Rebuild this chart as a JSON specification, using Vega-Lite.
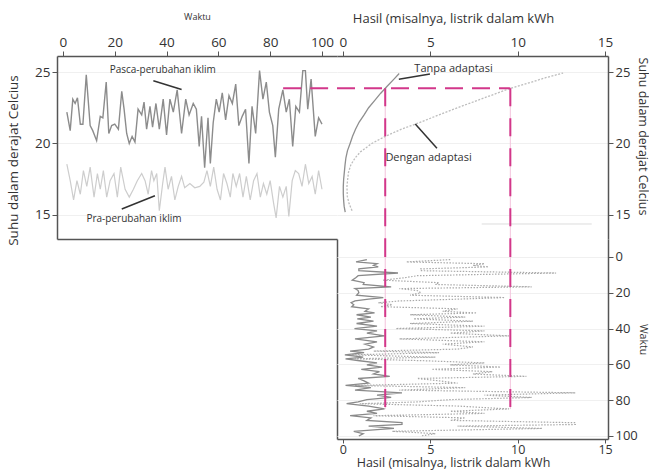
{
  "$schema": "https://vega.github.io/schema/vega-lite/v6.json",
  "padding": {"left": 6, "top": 12, "right": 1, "bottom": 1},
  "columns": 2,
  "spacing": 0,
  "bounds": "flush",
  "datasets": {
    "post": [{"t":1.5,"temp":22.2},{"t":2.8,"temp":20.9},{"t":3.8,"temp":23.1},{"t":4.7,"temp":22.8},{"t":5.6,"temp":23.2},{"t":6.7,"temp":21.35},{"t":7.7,"temp":21.35},{"t":9,"temp":24.8},{"t":10.5,"temp":21.25},{"t":11.5,"temp":20.9},{"t":13,"temp":20.2},{"t":14.4,"temp":21.9},{"t":15.4,"temp":21.8},{"t":16.7,"temp":24.3},{"t":17.7,"temp":20.7},{"t":18.8,"temp":21.25},{"t":20,"temp":21.35},{"t":21.4,"temp":21.0},{"t":22.7,"temp":23.65},{"t":23.6,"temp":22.4},{"t":24.6,"temp":20.7},{"t":25.6,"temp":20.0},{"t":26.7,"temp":20.5},{"t":27.8,"temp":20.1},{"t":29,"temp":22.4},{"t":30.4,"temp":22.0},{"t":31.3,"temp":22.9},{"t":32.3,"temp":21.0},{"t":33.6,"temp":22.6},{"t":34.6,"temp":21.15},{"t":35.9,"temp":22.8},{"t":37.2,"temp":21.0},{"t":38.7,"temp":23.1},{"t":40,"temp":20.6},{"t":41.3,"temp":23.1},{"t":42.6,"temp":22.2},{"t":44.1,"temp":23.75},{"t":45.8,"temp":20.7},{"t":47.4,"temp":23.1},{"t":48.7,"temp":22.0},{"t":50.3,"temp":22.8},{"t":51.5,"temp":22.4},{"t":52.6,"temp":19.8},{"t":53.5,"temp":21.9},{"t":54.7,"temp":18.3},{"t":56,"temp":21.8},{"t":56.9,"temp":18.6},{"t":58,"temp":21.45},{"t":59.2,"temp":23.1},{"t":60.3,"temp":22.2},{"t":61.5,"temp":23.55},{"t":62.8,"temp":21.65},{"t":64.1,"temp":23.35},{"t":65.4,"temp":22.8},{"t":66.7,"temp":24.15},{"t":67.9,"temp":21.25},{"t":69.2,"temp":21.9},{"t":70.5,"temp":22.4},{"t":71.8,"temp":18.6},{"t":73,"temp":22.6},{"t":74.4,"temp":20.7},{"t":75.9,"temp":25.1},{"t":77.2,"temp":23.1},{"t":78.5,"temp":24.3},{"t":79.7,"temp":22.2},{"t":81,"temp":21.25},{"t":82,"temp":19.05},{"t":83.3,"temp":22.4},{"t":84.9,"temp":23.75},{"t":86.2,"temp":22.2},{"t":87.4,"temp":23.1},{"t":88.7,"temp":19.8},{"t":89.9,"temp":22.6},{"t":91.3,"temp":22.2},{"t":92.6,"temp":25.1},{"t":93.6,"temp":25.1},{"t":94.5,"temp":22.4},{"t":95.8,"temp":24.5},{"t":97.4,"temp":20.5},{"t":98.7,"temp":21.8},{"t":100,"temp":21.35}],
    "pre": [{"t":1.5,"temp":18.55},{"t":2.8,"temp":17.4},{"t":4.1,"temp":16.05},{"t":5.4,"temp":17.4},{"t":6.7,"temp":16.45},{"t":7.9,"temp":18.1},{"t":9.2,"temp":17.0},{"t":10.5,"temp":18.35},{"t":12,"temp":16.25},{"t":13.3,"temp":17.9},{"t":14.4,"temp":16.8},{"t":15.6,"temp":18.1},{"t":16.9,"temp":16.25},{"t":18.2,"temp":17.4},{"t":19.7,"temp":17.9},{"t":21,"temp":16.25},{"t":22.3,"temp":18.35},{"t":24,"temp":16.8},{"t":25.6,"temp":16.25},{"t":27.2,"temp":16.8},{"t":28.7,"temp":17.4},{"t":30.4,"temp":17.9},{"t":31.7,"temp":17.4},{"t":32.9,"temp":16.45},{"t":34.2,"temp":18.1},{"t":35.1,"temp":17.4},{"t":36.2,"temp":17.9},{"t":37.2,"temp":15.3},{"t":38.5,"temp":17.2},{"t":39.4,"temp":18.35},{"t":40.6,"temp":16.8},{"t":41.9,"temp":17.7},{"t":43.2,"temp":16.05},{"t":44.5,"temp":17.0},{"t":45.8,"temp":17.7},{"t":47,"temp":16.9},{"t":49,"temp":17.2},{"t":50.9,"temp":16.9},{"t":52.8,"temp":17.0},{"t":54.4,"temp":17.3},{"t":55.6,"temp":18.1},{"t":56.9,"temp":17.0},{"t":58.2,"temp":18.35},{"t":59.5,"temp":16.8},{"t":60.8,"temp":16.05},{"t":62,"temp":17.9},{"t":63.3,"temp":17.2},{"t":64.6,"temp":16.25},{"t":65.6,"temp":17.9},{"t":66.9,"temp":17.0},{"t":68.2,"temp":17.9},{"t":69.5,"temp":16.25},{"t":70.8,"temp":17.7},{"t":72.3,"temp":16.05},{"t":73.6,"temp":17.4},{"t":74.9,"temp":17.9},{"t":76.2,"temp":16.25},{"t":77.4,"temp":17.2},{"t":78.7,"temp":16.45},{"t":80,"temp":17.4},{"t":81.3,"temp":15.85},{"t":82.3,"temp":14.8},{"t":83.6,"temp":17.0},{"t":84.9,"temp":16.25},{"t":86.2,"temp":17.0},{"t":87.2,"temp":14.9},{"t":88.5,"temp":17.4},{"t":89.7,"temp":18.1},{"t":91,"temp":17.9},{"t":92.3,"temp":17.0},{"t":93.6,"temp":18.55},{"t":94.9,"temp":17.2},{"t":96.2,"temp":17.7},{"t":97.4,"temp":16.45},{"t":98.7,"temp":18.1},{"t":100,"temp":16.8}],
    "yNo": [{"t":1.5,"yield":1.37},{"t":2.8,"yield":0.75},{"t":3.8,"yield":1.95},{"t":4.7,"yield":1.75},{"t":5.6,"yield":2.02},{"t":6.7,"yield":0.91},{"t":7.7,"yield":0.91},{"t":9,"yield":3.15},{"t":10.5,"yield":0.87},{"t":11.5,"yield":0.75},{"t":13,"yield":0.53},{"t":14.4,"yield":1.21},{"t":15.4,"yield":1.16},{"t":16.7,"yield":2.76},{"t":17.7,"yield":0.69},{"t":18.8,"yield":0.87},{"t":20,"yield":0.91},{"t":21.4,"yield":0.78},{"t":22.7,"yield":2.31},{"t":23.6,"yield":1.47},{"t":24.6,"yield":0.69},{"t":25.6,"yield":0.47},{"t":26.7,"yield":0.62},{"t":27.8,"yield":0.5},{"t":29,"yield":1.47},{"t":30.4,"yield":1.26},{"t":31.3,"yield":1.81},{"t":32.3,"yield":0.78},{"t":33.6,"yield":1.6},{"t":34.6,"yield":0.82},{"t":35.9,"yield":1.75},{"t":37.2,"yield":0.78},{"t":38.7,"yield":1.95},{"t":40,"yield":0.66},{"t":41.3,"yield":1.95},{"t":42.6,"yield":1.37},{"t":44.1,"yield":2.38},{"t":45.8,"yield":0.69},{"t":47.4,"yield":1.95},{"t":48.7,"yield":1.26},{"t":50.3,"yield":1.75},{"t":51.5,"yield":1.47},{"t":52.6,"yield":0.41},{"t":53.5,"yield":1.21},{"t":54.7,"yield":0.11},{"t":56,"yield":1.16},{"t":56.9,"yield":0.15},{"t":58,"yield":0.95},{"t":59.2,"yield":1.95},{"t":60.3,"yield":1.37},{"t":61.5,"yield":2.24},{"t":62.8,"yield":1.05},{"t":64.1,"yield":2.09},{"t":65.4,"yield":1.75},{"t":66.7,"yield":2.68},{"t":67.9,"yield":0.87},{"t":69.2,"yield":1.21},{"t":70.5,"yield":1.47},{"t":71.8,"yield":0.15},{"t":73,"yield":1.6},{"t":74.4,"yield":0.69},{"t":75.9,"yield":3.38},{"t":77.2,"yield":1.95},{"t":78.5,"yield":2.76},{"t":79.7,"yield":1.37},{"t":81,"yield":0.87},{"t":82,"yield":0.21},{"t":83.3,"yield":1.47},{"t":84.9,"yield":2.38},{"t":86.2,"yield":1.37},{"t":87.4,"yield":1.95},{"t":88.7,"yield":0.41},{"t":89.9,"yield":1.6},{"t":91.3,"yield":1.37},{"t":92.6,"yield":3.38},{"t":93.6,"yield":3.38},{"t":94.5,"yield":1.47},{"t":95.8,"yield":2.92},{"t":97.4,"yield":0.62},{"t":98.7,"yield":1.16},{"t":100,"yield":0.91}],
    "yWith": [{"t":1.5,"yield":6.14},{"t":2.8,"yield":3.63},{"t":3.8,"yield":8.1},{"t":4.7,"yield":7.44},{"t":5.6,"yield":8.33},{"t":6.7,"yield":4.45},{"t":7.7,"yield":4.45},{"t":9,"yield":12.2},{"t":10.5,"yield":4.25},{"t":11.5,"yield":3.63},{"t":13,"yield":2.29},{"t":14.4,"yield":5.5},{"t":15.4,"yield":5.29},{"t":16.7,"yield":10.8},{"t":17.7,"yield":3.23},{"t":18.8,"yield":4.25},{"t":20,"yield":4.45},{"t":21.4,"yield":3.84},{"t":22.7,"yield":9.26},{"t":23.6,"yield":6.56},{"t":24.6,"yield":3.23},{"t":25.6,"yield":2.02},{"t":26.7,"yield":2.82},{"t":27.8,"yield":2.15},{"t":29,"yield":6.56},{"t":30.4,"yield":5.71},{"t":31.3,"yield":7.66},{"t":32.3,"yield":3.84},{"t":33.6,"yield":7.0},{"t":34.6,"yield":4.04},{"t":35.9,"yield":7.44},{"t":37.2,"yield":3.84},{"t":38.7,"yield":8.1},{"t":40,"yield":3.03},{"t":41.3,"yield":8.1},{"t":42.6,"yield":6.14},{"t":44.1,"yield":9.5},{"t":45.8,"yield":3.23},{"t":47.4,"yield":8.1},{"t":48.7,"yield":5.71},{"t":50.3,"yield":7.44},{"t":51.5,"yield":6.56},{"t":52.6,"yield":1.75},{"t":53.5,"yield":5.5},{"t":54.7,"yield":0.5},{"t":56,"yield":5.29},{"t":56.9,"yield":0.68},{"t":58,"yield":4.66},{"t":59.2,"yield":8.1},{"t":60.3,"yield":6.14},{"t":61.5,"yield":9.02},{"t":62.8,"yield":5.08},{"t":64.1,"yield":8.55},{"t":65.4,"yield":7.44},{"t":66.7,"yield":10.5},{"t":67.9,"yield":4.25},{"t":69.2,"yield":5.5},{"t":70.5,"yield":6.56},{"t":71.8,"yield":0.68},{"t":73,"yield":7.0},{"t":74.4,"yield":3.23},{"t":75.9,"yield":13.3},{"t":77.2,"yield":8.1},{"t":78.5,"yield":10.8},{"t":79.7,"yield":6.14},{"t":81,"yield":4.25},{"t":82,"yield":0.96},{"t":83.3,"yield":6.56},{"t":84.9,"yield":9.5},{"t":86.2,"yield":6.14},{"t":87.4,"yield":8.1},{"t":88.7,"yield":1.75},{"t":89.9,"yield":7.0},{"t":91.3,"yield":6.14},{"t":92.6,"yield":13.3},{"t":93.6,"yield":13.3},{"t":94.5,"yield":6.56},{"t":95.8,"yield":11.4},{"t":97.4,"yield":2.82},{"t":98.7,"yield":5.29},{"t":100,"yield":4.45}],
    "curveNo": [{"temp":15.2,"yield":0.13},{"temp":15.6,"yield":0.07},{"temp":16.0,"yield":0.04},{"temp":16.5,"yield":0.02},{"temp":17.0,"yield":0.02},{"temp":17.5,"yield":0.04},{"temp":18.0,"yield":0.08},{"temp":18.5,"yield":0.12},{"temp":19.0,"yield":0.17},{"temp":19.5,"yield":0.26},{"temp":20.0,"yield":0.41},{"temp":20.5,"yield":0.55},{"temp":21.0,"yield":0.72},{"temp":21.5,"yield":0.93},{"temp":22.0,"yield":1.21},{"temp":22.5,"yield":1.47},{"temp":23.0,"yield":1.81},{"temp":23.5,"yield":2.15},{"temp":24.0,"yield":2.53},{"temp":24.5,"yield":2.92},{"temp":24.9,"yield":3.22}],
    "curveWith": [{"temp":15.3,"yield":0.52},{"temp":15.8,"yield":0.35},{"temp":16.3,"yield":0.25},{"temp":17.0,"yield":0.23},{"temp":17.5,"yield":0.27},{"temp":18.0,"yield":0.32},{"temp":18.5,"yield":0.45},{"temp":19.0,"yield":0.7},{"temp":19.4,"yield":0.99},{"temp":20.0,"yield":1.65},{"temp":20.5,"yield":2.42},{"temp":21.0,"yield":3.35},{"temp":21.4,"yield":4.24},{"temp":22.0,"yield":5.5},{"temp":22.4,"yield":6.34},{"temp":23.0,"yield":7.66},{"temp":23.5,"yield":8.78},{"temp":23.86,"yield":9.58},{"temp":24.3,"yield":10.8},{"temp":24.6,"yield":11.6},{"temp":24.93,"yield":12.6}],
    "guideTL": [{"t":85,"temp":23.86}],
    "guideH": [{"yield":9.58,"temp":23.86}],
    "guideVTR": [{"yield":2.42,"temp":23.86,"temp2":13.32},{"yield":9.58,"temp":23.86,"temp2":13.32}],
    "guideVBR": [{"yield":2.42,"t":-10,"t2":85},{"yield":9.58,"t":-10,"t2":85}],
    "labelsTL": [{"t":38.5,"temp":25.16,"label":"Pasca-perubahan iklim"},{"t":27.4,"temp":14.72,"label":"Pra-perubahan iklim"}],
    "pointersTL": [{"t":34.9,"temp":24.39,"t2":45.8,"temp2":23.78},{"t":22.7,"temp":15.42,"t2":35.5,"temp2":16.35}],
    "labelsTR": [{"yield":6.33,"temp":25.2,"label":"Tanpa adaptasi"},{"yield":4.9,"temp":18.97,"label":"Dengan adaptasi"}],
    "pointersTR": [{"yield":3.2,"temp":24.5,"yield2":4.98,"temp2":24.86},{"yield":4.14,"temp":21.36,"yield2":5.38,"temp2":19.66}],
    "faintTR": [{"yield":7.94,"yield2":14.24,"temp":14.37}]
  },
  "concat": [
    {
      "width": 280, "height": 183,
      "encoding": {
        "x": {"field": "t", "type": "quantitative", "scale": {"domain": [-2.3, 105.8], "nice": false, "zero": false},
              "axis": {"orient": "top", "title": "Waktu", "titleFontSize": 9, "values": [0,20,40,60,80,100], "grid": false, "titlePadding": 14}},
        "y": {"field": "temp", "type": "quantitative", "scale": {"domain": [13.32, 26.12], "nice": false, "zero": false},
              "axis": {"orient": "left", "title": "Suhu dalam derajat Celcius", "titleFontSize": 13.5, "values": [15,20,25], "grid": true, "titlePadding": 14, "titleY": 104}}
      },
      "layer": [
        {"data": {"name": "pre"}, "mark": {"type": "line", "color": "#cdcdcd", "strokeWidth": 1.2}},
        {"data": {"name": "post"}, "mark": {"type": "line", "color": "#8c8c8c", "strokeWidth": 1.4}},
        {"data": {"name": "guideTL"}, "mark": {"type": "rule", "color": "#d2378a", "strokeWidth": 2, "strokeDash": [18, 9]}, "encoding": {"x2": {"datum": 105.8}}},
        {"data": {"name": "labelsTL"}, "mark": {"type": "text", "fontSize": 10, "color": "#333"}, "encoding": {"text": {"field": "label"}}},
        {"data": {"name": "pointersTL"}, "mark": {"type": "rule", "color": "#333", "strokeWidth": 1.5}, "encoding": {"x2": {"field": "t2"}, "y2": {"field": "temp2"}}}
      ]
    },
    {
      "width": 271, "height": 183,
      "encoding": {
        "x": {"field": "yield", "type": "quantitative", "scale": {"domain": [-0.34, 15.17], "nice": false, "zero": false},
              "axis": {"orient": "top", "title": "Hasil (misalnya, listrik dalam kWh", "values": [0,5,10,15], "grid": false, "titlePadding": 10, "titleX": 116}},
        "y": {"field": "temp", "type": "quantitative", "scale": {"domain": [13.32, 26.12], "nice": false, "zero": false},
              "axis": {"orient": "right", "title": "Suhu dalam derajat Celcius", "titleFontSize": 12.5, "labelFontSize": 13, "values": [15,20,25], "grid": true, "titleX": 27, "titleY": 80}}
      },
      "layer": [
        {"data": {"name": "faintTR"}, "mark": {"type": "rule", "color": "#dddddd", "strokeWidth": 1}, "encoding": {"x2": {"field": "yield2"}}},
        {"data": {"name": "guideVTR"}, "mark": {"type": "rule", "color": "#f3c3dc", "strokeWidth": 1}, "encoding": {"y2": {"field": "temp2"}}},
        {"data": {"name": "curveNo"}, "mark": {"type": "line", "color": "#8f8f8f", "strokeWidth": 1.3}, "encoding": {"order": {"field": "temp", "type": "quantitative"}}},
        {"data": {"name": "curveWith"}, "mark": {"type": "line", "color": "#bdbdbd", "strokeWidth": 1.3, "strokeDash": [2, 1.5]}, "encoding": {"order": {"field": "temp", "type": "quantitative"}}},
        {"data": {"name": "guideVTR"}, "mark": {"type": "rule", "color": "#d2378a", "strokeWidth": 2, "strokeDash": [18, 12]}, "encoding": {"y2": {"field": "temp2"}}},
        {"data": {"name": "guideH"}, "mark": {"type": "rule", "color": "#d2378a", "strokeWidth": 2, "strokeDash": [18, 9]}, "encoding": {"x": {"datum": -0.34}, "x2": {"field": "yield"}}},
        {"data": {"name": "labelsTR"}, "mark": {"type": "text", "fontSize": 11, "color": "#333"}, "encoding": {"text": {"field": "label"}}},
        {"data": {"name": "pointersTR"}, "mark": {"type": "rule", "color": "#333", "strokeWidth": 1.5}, "encoding": {"x2": {"field": "yield2"}, "y2": {"field": "temp2"}}}
      ]
    },
    {
      "width": 280, "height": 200,
      "data": {"values": []},
      "mark": "point",
      "encoding": {
        "x": {"field": "a", "type": "quantitative", "scale": {"domain": [0, 1]}, "axis": {"orient": "top", "labels": false, "ticks": false, "grid": false, "title": null}},
        "y": {"field": "b", "type": "quantitative", "scale": {"domain": [0, 1]}, "axis": {"orient": "right", "labels": false, "ticks": false, "grid": false, "title": null}}
      }
    },
    {
      "width": 271, "height": 200,
      "encoding": {
        "x": {"field": "yield", "type": "quantitative", "scale": {"domain": [-0.34, 15.17], "nice": false, "zero": false},
              "axis": {"orient": "bottom", "title": "Hasil (misalnya, listrik dalam kWh", "titleFontSize": 12.5, "labelFontSize": 12.5, "tickSize": 4, "values": [0,5,10,15], "grid": false, "labelPadding": 0, "titlePadding": 1, "titleX": 116}},
        "y": {"field": "t", "type": "quantitative", "scale": {"domain": [-10, 101.7], "reverse": true, "nice": false, "zero": false},
              "axis": {"orient": "right", "title": "Waktu", "titleFontSize": 10.5, "labelFontSize": 13, "values": [0,20,40,60,80,100], "grid": true, "titleX": 29}}
      },
      "layer": [
        {"data": {"name": "guideVBR"}, "mark": {"type": "rule", "color": "#f3c3dc", "strokeWidth": 1}, "encoding": {"y2": {"field": "t2"}}},
        {"data": {"name": "yWith"}, "mark": {"type": "line", "color": "#a9a9a9", "strokeWidth": 1.2, "strokeDash": [1.5, 1.5]}, "encoding": {"order": {"field": "t", "type": "quantitative"}}},
        {"data": {"name": "yNo"}, "mark": {"type": "line", "color": "#8a8a8a", "strokeWidth": 1.3}, "encoding": {"order": {"field": "t", "type": "quantitative"}}},
        {"data": {"name": "guideVBR"}, "mark": {"type": "rule", "color": "#d2378a", "strokeWidth": 2, "strokeDash": [18, 12]}, "encoding": {"y2": {"field": "t2"}}}
      ]
    }
  ],
  "config": {
    "view": {"stroke": null},
    "font": "Open Sans",
    "axis": {"labelFontSize": 13.5, "labelColor": "#333", "titleColor": "#333", "titleFontWeight": "normal", "titleFontSize": 13, "domainColor": "#555", "tickColor": "#555", "domainWidth": 1.5, "tickSize": 5, "labelPadding": 2, "gridColor": "#f0f0f0"}
  }
}
